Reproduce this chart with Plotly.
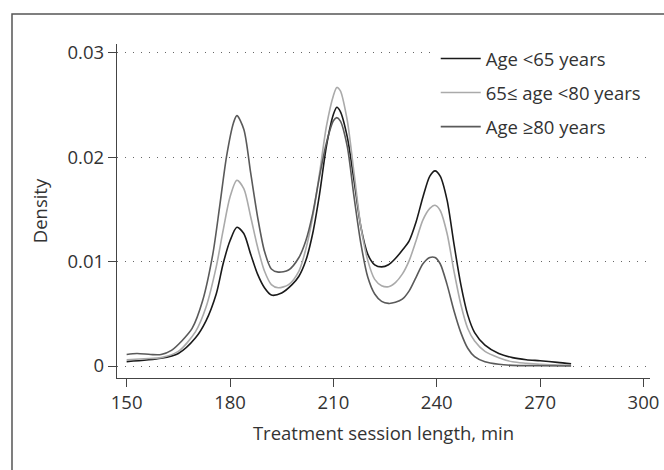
import plotly.graph_objects as go

x_black = [150, 160, 165, 170, 173, 176, 178, 180, 182, 184, 186, 188, 190, 192, 195, 198, 200, 202, 204, 206, 208, 210, 211, 212, 214, 216, 218, 220, 222, 224, 226, 228, 230, 232, 234, 236, 238, 239.5, 241, 243, 245, 247, 249, 251, 254, 258, 262, 266, 270, 275, 279]
y_black = [0.00042, 0.00074, 0.0012, 0.0027, 0.0043, 0.0069, 0.0098, 0.012, 0.0133, 0.0127, 0.0107, 0.0088, 0.0075, 0.0068, 0.007, 0.0078, 0.0086, 0.0101, 0.0127, 0.0165, 0.0211, 0.0241, 0.0248, 0.0244, 0.022, 0.0178, 0.0133, 0.0107, 0.0097, 0.0095, 0.0097, 0.0103, 0.0111, 0.012, 0.0138, 0.0162, 0.0182, 0.0187, 0.0182, 0.0159, 0.0117, 0.0078, 0.0049, 0.0032, 0.002, 0.0012, 0.0008, 0.0006, 0.0005, 0.00035, 0.0002]

x_light = [150, 155, 160, 165, 170, 173, 176, 178, 180, 182, 184, 186, 188, 190, 192, 194, 197, 200, 202, 204, 206, 208, 210, 211, 212, 214, 216, 218, 220, 222, 224, 226, 228, 230, 232, 234, 236, 238, 239.5, 241, 243, 245, 247, 249, 251, 254, 258, 262, 266, 270, 275, 279]
y_light = [0.0006, 0.0007, 0.0008, 0.0014, 0.0033, 0.0056, 0.0095, 0.013, 0.0162, 0.0178, 0.017, 0.0143, 0.0114, 0.0091, 0.0078, 0.0075, 0.0078, 0.0091, 0.0112, 0.0143, 0.0185, 0.023, 0.0259, 0.0267, 0.0264, 0.0236, 0.0185, 0.0133, 0.0101, 0.0083, 0.0077, 0.0076, 0.008, 0.0088, 0.0101, 0.012, 0.014, 0.0151, 0.0154, 0.0149, 0.0127, 0.0091, 0.0059, 0.0036, 0.0024, 0.0014, 0.0008, 0.0004, 0.00026, 0.00016, 0.0001, 0.00006]

x_dark = [150, 153, 157, 160, 163, 166, 169, 172, 175, 177, 179, 181, 182, 184, 186, 188, 190, 192, 194, 197, 200, 202, 204, 206, 208, 210, 211, 212, 214, 216, 218, 220, 222, 224, 226, 228, 230, 232, 234, 236, 238, 239.5, 241, 243, 245, 247, 249, 251, 254, 258, 262, 270, 279]
y_dark = [0.0011, 0.0012, 0.0011, 0.0011, 0.0015, 0.0024, 0.0036, 0.0062, 0.0107, 0.0153, 0.0201, 0.0233, 0.024, 0.0227, 0.0185, 0.0143, 0.011, 0.0093, 0.009, 0.0092, 0.0104, 0.012, 0.0146, 0.0182, 0.0214, 0.0235, 0.0238, 0.0235, 0.0211, 0.0162, 0.0117, 0.0085, 0.0069, 0.0062, 0.006, 0.0061, 0.0064, 0.0072, 0.0085, 0.0098, 0.0104, 0.0104, 0.0098, 0.0078, 0.0053, 0.0032, 0.0017, 0.0009, 0.0004, 0.00016, 0.00006, 0.00003, 0.0]

names = ["Age <65 years", "65\u2264 age <80 years", "Age \u226580 years"]
colors = ["#1a1a1a", "#aaaaaa", "#5a5a5a"]
x_ticks = [150, 180, 210, 240, 270, 300]
y_ticks = [0, 0.01, 0.02, 0.03]
y_tick_text = ["0", "0.01", "0.02", "0.03"]

FONT = "Open Sans"
FS = 18.5
fig = go.Figure()
for i, (xs, ys) in enumerate([(x_black, y_black), (x_light, y_light), (x_dark, y_dark)]):
    fig.add_trace(go.Scatter(x=xs, y=ys, mode="lines", name=names[i],
                             line=dict(color=colors[i], width=1.6, shape="spline", smoothing=0.8),
                             legendgroup=str(i)))

axis_common = dict(showline=True, linecolor="#444", linewidth=1.3, ticks="outside",
                   ticklen=8, tickcolor="#444", tickwidth=1.3, zeroline=False, automargin=False,
                   tickfont=dict(family=FONT, size=FS, color="#333"))

fig.update_layout(
    width=664, height=470,
    margin=dict(l=117, r=14, t=44, b=92),
    plot_bgcolor="white", paper_bgcolor="white",
    showlegend=True,
    legend=dict(x=0.598, y=1.012, xanchor="left", yanchor="top", bgcolor="white",
                font=dict(family=FONT, size=FS, color="#333"),
                traceorder="grouped", tracegroupgap=7, itemwidth=40),
    xaxis=dict(range=[147.2, 301.9], tickvals=x_ticks, showgrid=False,
               title=dict(text="Treatment session length, min", font=dict(family=FONT, size=FS, color="#333"), standoff=13),
               **axis_common),
    yaxis=dict(range=[-0.00115, 0.03086], tickvals=y_ticks, ticktext=y_tick_text,
               showgrid=True, gridcolor="#666", griddash="1px,7px", gridwidth=1,
               title=dict(text="Density", font=dict(family=FONT, size=FS, color="#333"), standoff=15),
               **axis_common),
)

fig.add_shape(type="rect", xref="paper", yref="paper", x0=-0.197, y0=-0.5, x1=1.2, y1=1.0898,
              line=dict(color="#555", width=1.5), fillcolor="rgba(0,0,0,0)", layer="above")

fig.write_html("out.html",
               config={"displayModeBar": False},
               post_script="document.body.style.margin='0';document.body.style.overflow='hidden';")
